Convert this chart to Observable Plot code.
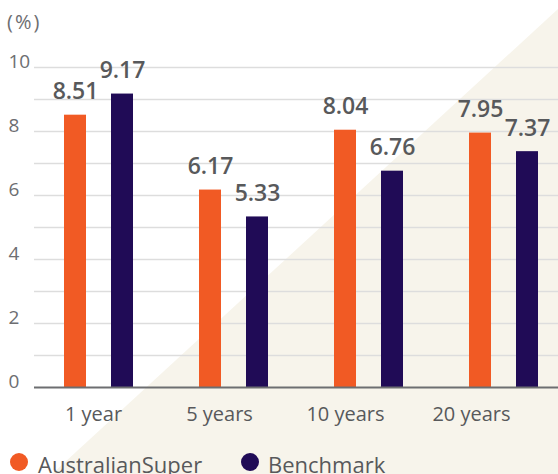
<!DOCTYPE html>
<html>
<head>
<meta charset="utf-8">
<script src="https://cdn.jsdelivr.net/npm/d3@7"></script>
<script src="https://cdn.jsdelivr.net/npm/@observablehq/plot@0.6"></script>
<style>
  html, body { margin: 0; padding: 0; background: #ffffff; }
  #wrap { position: relative; width: 558px; height: 474px; overflow: hidden; font-family: "Open Sans", sans-serif; color: #58595b; background: #ffffff; }
  #bg { position: absolute; left: 0; top: 0; width: 558px; height: 474px; background: #f7f4eb; clip-path: polygon(558px 9px, 558px 474px, 52px 474px); }
  #unit { position: absolute; left: 7px; top: 11px; font-size: 20px; line-height: 22px; letter-spacing: 2px; color: #6d6e71; }
  #main { position: absolute; left: 0; top: 0; }
  #xlab { position: absolute; left: 0; top: 400px; }
  .dot { position: absolute; width: 18px; height: 18px; border-radius: 50%; top: 453px; }
  .lg { position: absolute; top: 452px; font-size: 22px; line-height: 24px; color: #58595b; white-space: nowrap; }
</style>
</head>
<body>
<div id="wrap">
  <div id="bg"></div>
  <div id="main"></div>
  <div id="xlab"></div>
  <div id="unit">(%)</div>
  <div id="legend"></div>
</div>
<script>
const periods = ["1 year", "5 years", "10 years", "20 years"];
const seriesNames = ["AustralianSuper", "Benchmark"];
const australianSuper = [8.51, 6.17, 8.04, 7.95];
const benchmark = [9.17, 5.33, 6.76, 7.37];
const yTickValues = [0, 2, 4, 6, 8, 10];
const gridValues = [1, 2, 3, 4, 5, 6, 7, 8, 9, 10];
const seriesColors = ["#f15a24", "#200b56"];

const rowsA = periods.map((p, i) => ({period: p, series: seriesNames[0], value: australianSuper[i]}));
const rowsB = periods.map((p, i) => ({period: p, series: seriesNames[1], value: benchmark[i]}));

const labelStyle = {lineAnchor: "bottom", dy: -16, fontSize: 23, fontWeight: 600, fill: "#58595b", fontFamily: "Open Sans"};

const main = Plot.plot({
  width: 558,
  height: 395,
  marginTop: 67,
  marginBottom: 8,
  marginLeft: 34,
  marginRight: 0,
  style: {background: "transparent", overflow: "visible", fontFamily: "Open Sans"},
  x: {type: "band", domain: periods, range: [31, 571], padding: 0, axis: null},
  y: {domain: [0, 10], axis: null},
  color: {domain: seriesNames, range: seriesColors},
  marks: [
    Plot.ruleY(gridValues, {stroke: "#dddddd", strokeWidth: 1.5}),
    Plot.barY(rowsA, {x: "period", y: "value", fill: "series", insetLeft: 33, insetRight: 80}),
    Plot.barY(rowsB, {x: "period", y: "value", fill: "series", insetLeft: 80, insetRight: 33}),
    Plot.ruleY([0], {stroke: "#6d6e71", strokeWidth: 2}),
    Plot.text(rowsA, {x: "period", y: "value", text: d => d.value.toFixed(2), dx: -23.5, ...labelStyle}),
    Plot.text(rowsB, {x: "period", y: "value", text: d => d.value.toFixed(2), dx: 23.5, ...labelStyle}),
    Plot.text(yTickValues, {y: d => d, text: d => String(d), frameAnchor: "left", textAnchor: "start", lineAnchor: "bottom", dx: -26, fontSize: 19, fill: "#6d6e71", fontFamily: "Open Sans"})
  ]
});
document.getElementById("main").appendChild(main);

const xlab = Plot.plot({
  width: 558,
  height: 40,
  margin: 0,
  style: {background: "transparent", overflow: "visible", fontFamily: "Open Sans"},
  x: {type: "point", domain: periods, range: [92, 471], padding: 0, axis: null},
  marks: [
    Plot.text(periods, {x: d => d, frameAnchor: "middle", lineAnchor: "bottom", fontSize: 20, fill: "#58595b", fontFamily: "Open Sans"})
  ]
});
document.getElementById("xlab").appendChild(xlab);

const legend = document.getElementById("legend");
const dotLeft = [10, 241];
const textLeft = [38, 268];
seriesNames.forEach((name, i) => {
  const dot = document.createElement("div");
  dot.className = "dot";
  dot.style.left = dotLeft[i] + "px";
  dot.style.background = seriesColors[i];
  legend.appendChild(dot);
  const t = document.createElement("div");
  t.className = "lg";
  t.style.left = textLeft[i] + "px";
  t.textContent = name;
  legend.appendChild(t);
});
</script>
</body>
</html>
